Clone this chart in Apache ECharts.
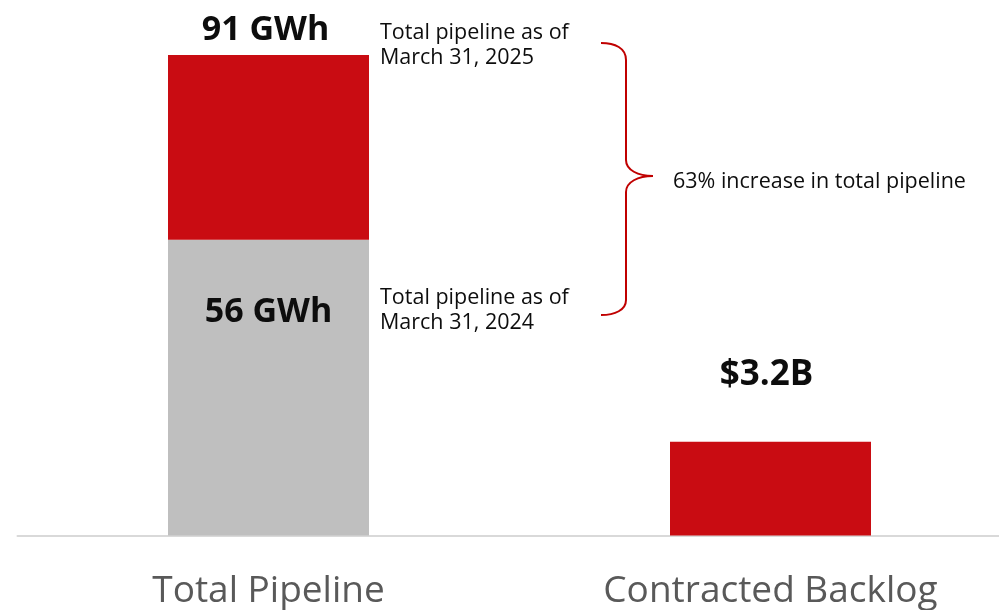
<!DOCTYPE html>
<html>
<head>
<meta charset="utf-8">
<script src="https://cdn.jsdelivr.net/npm/echarts@6/dist/echarts.min.js"></script>
<style>
  html, body { margin: 0; padding: 0; background: #ffffff; }
  #chart { width: 999px; height: 610px; }
</style>
</head>
<body>
<div id="chart"></div>
<script>
// ---- data ----
const categories = ['Total Pipeline', 'Contracted Backlog'];
const pipeline2024GWh = 56;      // total pipeline as of March 31, 2024
const pipeline2025GWh = 91;      // total pipeline as of March 31, 2025
const contractedBacklogB = 3.2;  // contracted backlog, $ billions
const annotation2025 = 'Total pipeline as of\nMarch 31, 2025';
const annotation2024 = 'Total pipeline as of\nMarch 31, 2024';
const increaseText = '63% increase in total pipeline';

const RED = '#C90C12';
const GRAY = '#BFBFBF';
const BRACE = '#C00000';
const FONT = 'Open Sans';

const chart = echarts.init(document.getElementById('chart'), null, { renderer: 'canvas' });

const braceStyle = { fill: null, stroke: BRACE, lineWidth: 2 };
function bez(x1, y1, cpx1, cpy1, cpx2, cpy2, x2, y2) {
  return { type: 'bezierCurve', shape: { x1, y1, cpx1, cpy1, cpx2, cpy2, x2, y2 }, style: braceStyle };
}
function seg(x1, y1, x2, y2) {
  return { type: 'line', shape: { x1, y1, x2, y2 }, style: braceStyle };
}

const option = {
  animation: false,
  backgroundColor: '#ffffff',
  grid: { left: 17.5, right: -22.5, top: 7.5, bottom: 74.5, containLabel: false, outerBoundsMode: 'none' },
  xAxis: {
    type: 'category',
    data: categories,
    axisTick: { show: false },
    axisLine: { show: true, lineStyle: { color: '#D9D9D9', width: 2 } },
    axisLabel: {
      color: '#595959', fontFamily: FONT, fontSize: 37, lineHeight: 37, margin: 37
    }
  },
  yAxis: [
    { type: 'value', min: 0, max: 100, show: false, splitLine: { show: false } },
    { type: 'value', min: 0, max: 18, show: false, splitLine: { show: false } }
  ],
  series: [
    {
      name: 'Pipeline 2024',
      type: 'bar',
      stack: 'pipeline',
      yAxisIndex: 0,
      barWidth: 201,
      barGap: '-100%',
      itemStyle: { color: GRAY },
      data: [pipeline2024GWh, '-'],
      label: {
        show: true,
        position: 'insideTop',
        distance: 55,
        formatter: (p) => p.value + ' GWh',
        color: '#0D0D0D', fontFamily: FONT, fontWeight: 'bold', fontSize: 34, lineHeight: 34
      }
    },
    {
      name: 'Pipeline increase',
      type: 'bar',
      stack: 'pipeline',
      yAxisIndex: 0,
      barWidth: 201,
      barGap: '-100%',
      itemStyle: { color: RED },
      data: [pipeline2025GWh - pipeline2024GWh, '-'],
      label: {
        show: true,
        position: 'top',
        distance: 8,
        offset: [-3, 0],
        formatter: () => pipeline2025GWh + ' GWh',
        color: '#0D0D0D', fontFamily: FONT, fontWeight: 'bold', fontSize: 34, lineHeight: 34
      }
    },
    {
      name: 'Contracted Backlog',
      type: 'bar',
      yAxisIndex: 1,
      barWidth: 201,
      barGap: '-100%',
      itemStyle: { color: RED },
      data: ['-', contractedBacklogB],
      label: {
        show: true,
        position: 'top',
        distance: 49,
        offset: [-4, 0],
        formatter: (p) => '$' + p.value + 'B',
        color: '#0D0D0D', fontFamily: FONT, fontWeight: 'bold', fontSize: 35, lineHeight: 35
      }
    }
  ],
  graphic: [
    {
      type: 'text', x: 380, y: 20,
      style: { text: annotation2025, fill: '#0D0D0D', font: '21.5px "Open Sans"', lineHeight: 25 }
    },
    {
      type: 'text', x: 380, y: 285,
      style: { text: annotation2024, fill: '#0D0D0D', font: '21.5px "Open Sans"', lineHeight: 25 }
    },
    {
      type: 'text', x: 673, y: 169,
      style: { text: increaseText, fill: '#0D0D0D', font: '21.5px "Open Sans"', lineHeight: 26 }
    },
    bez(601, 43, 615, 43, 626, 48, 626, 60),
    seg(626, 60, 626, 160),
    bez(626, 160, 626, 170, 638, 176, 653, 176),
    bez(653, 176, 638, 176, 626, 182, 626, 192),
    seg(626, 192, 626, 300),
    bez(626, 300, 626, 310, 615, 315, 601, 315)
  ]
};

chart.setOption(option);
</script>
</body>
</html>
